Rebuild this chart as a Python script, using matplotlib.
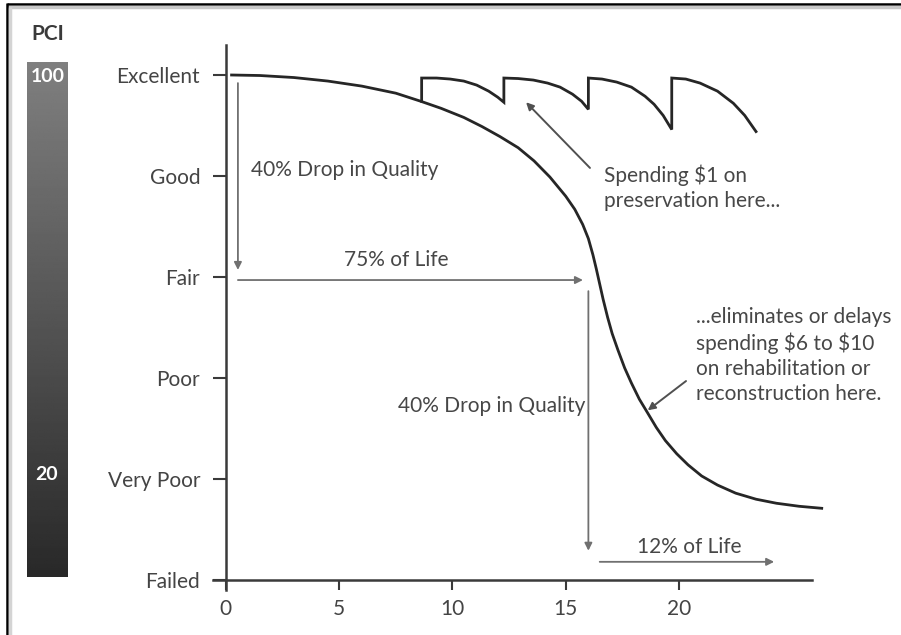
import matplotlib
matplotlib.use("Agg")
import matplotlib.pyplot as plt
import numpy as np

plt.rcParams['font.family'] = ['Lato', 'DejaVu Sans']

# condition levels on the y axis (Failed = 0 ... Excellent = 5)
level_names = ['Failed', 'Very Poor', 'Poor', 'Fair', 'Good', 'Excellent']
year_ticks = [0, 5, 10, 15, 20]

# deterioration curve without preservation (years, condition)
life_t = [0.25, 1.5, 3.0, 4.5, 6.0, 7.5, 8.6, 9.5, 10.5, 11.3, 12.1, 12.9,
          13.6, 14.3, 15.0, 15.4, 15.75, 16.0, 16.2, 16.35, 16.5, 16.65,
          16.85, 17.05, 17.3, 17.6, 17.9, 18.25, 18.6, 19.0, 19.4, 19.9,
          20.4, 21.0, 21.7, 22.5, 23.4, 24.3, 25.3, 26.3]
life_y = [5.0, 4.995, 4.975, 4.94, 4.89, 4.82, 4.74, 4.67, 4.58, 4.49, 4.39,
          4.28, 4.15, 3.99, 3.80, 3.67, 3.52, 3.38, 3.22, 3.08, 2.93, 2.78,
          2.60, 2.44, 2.28, 2.10, 1.95, 1.79, 1.66, 1.51, 1.38, 1.25,
          1.14, 1.03, 0.94, 0.86, 0.80, 0.76, 0.73, 0.71]

# curve with preservation treatments (sawtooth)
saw_t = [8.64, 8.64, 9.3, 9.9, 10.5, 11.07, 11.6, 12.0, 12.27,
         12.27, 12.9, 13.57, 14.2, 14.75, 15.3, 15.7, 16.0,
         16.0, 16.6, 17.25, 17.9, 18.5, 18.9, 19.3, 19.68,
         19.68, 20.3, 20.93, 21.7, 22.4, 22.9, 23.4]
saw_y = [4.74, 4.97, 4.97, 4.96, 4.94, 4.90, 4.84, 4.78, 4.73,
         4.97, 4.965, 4.95, 4.92, 4.88, 4.81, 4.74, 4.66,
         4.97, 4.96, 4.93, 4.88, 4.79, 4.71, 4.60, 4.46,
         4.97, 4.96, 4.92, 4.84, 4.72, 4.60, 4.44]

# PCI scale labels
pci_text = ['100', '20']

fig = plt.figure(figsize=(9.01, 6.35), dpi=100)

# background layer in pixel units: frame and the PCI bar
bg = fig.add_axes([0, 0, 1, 1], zorder=0)
bg.set_xlim(0, 901)
bg.set_ylim(635, 0)
bg.axis('off')
bg.plot([7, 901], [3.5, 3.5], color='black', lw=1.8, solid_capstyle='butt')
bg.plot([7, 901], [6.5, 6.5], color='#c8c8c8', lw=2.5, solid_capstyle='butt')
bg.plot([7, 7], [3, 635], color='black', lw=1.8, solid_capstyle='butt')
bg.plot([10, 10], [7, 635], color='#d4d4d4', lw=2.5, solid_capstyle='butt')
grad = np.linspace(0.50, 0.16, 256).reshape(-1, 1)
bg.imshow(grad, cmap='gray', vmin=0, vmax=1, aspect='auto',
          extent=[27, 68, 577, 62], interpolation='bilinear')
bg.text(48, 34, 'PCI', ha='center', va='center', fontsize=15,
        fontweight='bold', color='#3a3a3a')
bg.text(48, 77, pci_text[0], ha='center', va='center', fontsize=14,
        fontweight='bold', color='white')
bg.text(47, 474, pci_text[1], ha='center', va='center', fontsize=14,
        fontweight='bold', color='white')

# main chart
ax = fig.add_axes([0.2364, 0.0707, 0.6648, 0.8589], zorder=1)
ax.patch.set_alpha(0)
ax.set_xlim(-0.57, 25.87)
ax.set_ylim(-0.1, 5.3)
for s in ['top', 'right']:
    ax.spines[s].set_visible(False)
ax.spines['left'].set_position(('data', 0))
ax.spines['bottom'].set_position(('data', 0))
axcol = '#3a3a3a'
for s in ['left', 'bottom']:
    ax.spines[s].set_linewidth(1.8)
    ax.spines[s].set_color(axcol)

ax.set_yticks(range(len(level_names)))
ax.set_yticklabels(level_names)
ax.set_xticks(year_ticks)
ax.tick_params(axis='y', direction='out', length=9.5, width=1.5, pad=9,
               colors=axcol, labelcolor='#444444', labelsize=15)
ax.tick_params(axis='x', direction='out', length=7, width=1.5, pad=7,
               colors=axcol, labelcolor='#444444', labelsize=15)

ax.plot(life_t, life_y, color='#262626', lw=2.0, clip_on=False,
        solid_joinstyle='round')
ax.plot(saw_t, saw_y, color='#262626', lw=2.0, clip_on=False,
        solid_joinstyle='miter')

gray = '#707070'
txtcol = '#474747'


def arrow(tail, head, col=gray, lw=1.3):
    ax.annotate('', xy=head, xytext=tail,
                arrowprops=dict(arrowstyle='-|>', color=col, lw=lw,
                                mutation_scale=11, shrinkA=0, shrinkB=0),
                annotation_clip=False)


arrow((0.53, 4.92), (0.53, 3.07))
arrow((0.53, 2.97), (15.76, 2.97))
arrow((16.0, 2.86), (16.0, 0.29))
arrow((16.5, 0.18), (24.2, 0.18))
arrow((16.07, 4.08), (13.25, 4.73), col='#505050', lw=1.4)
arrow((20.31, 1.97), (18.62, 1.68), col='#505050', lw=1.4)

fs = 15
ax.text(1.09, 4.06, '40% Drop in Quality', ha='left', va='center',
        fontsize=fs, color=txtcol)
ax.text(7.54, 3.17, '75% of Life', ha='center', va='center',
        fontsize=fs, color=txtcol)
ax.text(16.69, 3.88, 'Spending \\$1 on\npreservation here...', ha='left',
        va='center', fontsize=fs, color=txtcol, linespacing=1.32)
ax.text(20.75, 2.22, '...eliminates or delays\nspending \\$6 to \\$10\n'
        'on rehabilitation or\nreconstruction here.', ha='left', va='center',
        fontsize=fs, color=txtcol, linespacing=1.32)
ax.text(15.85, 1.72, '40% Drop in Quality', ha='right', va='center',
        fontsize=fs, color=txtcol)
ax.text(20.45, 0.33, '12% of Life', ha='center', va='center',
        fontsize=fs, color=txtcol)

fig.savefig('out.png', dpi=100)
